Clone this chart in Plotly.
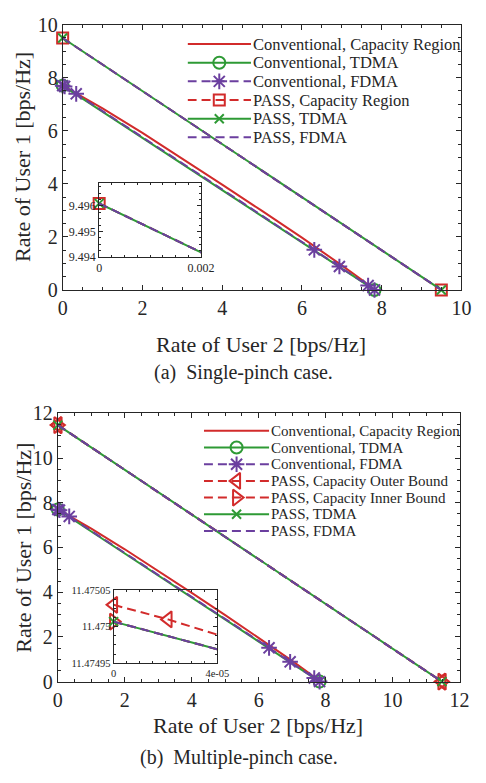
import numpy as np
import plotly.graph_objects as go

# ---------------- data ----------------
# (a) single-pinch case
conv_cap_x = [0, 0.5, 1, 2, 3, 4, 5, 6, 7, 7.5, 7.82]
conv_cap_y = [7.70, 7.28, 6.845, 5.92, 4.956, 3.97, 2.977, 1.972, 0.927, 0.385, 0.0]

conv_tdma_x = [0, 7.82]
conv_tdma_y = [7.70, 0.0]
conv_tdma_mk = [1, 1]

conv_fdma_x = [0, 0.05, 0.34, 1, 2, 3, 4, 5, 6, 6.31, 6.94, 7.66, 7.82]
conv_fdma_y = [7.70, 7.67, 7.39, 6.745, 5.76, 4.78, 3.79, 2.80, 1.82, 1.51, 0.885, 0.165, 0.0]
conv_fdma_mk = [1, 1, 1, 0, 0, 0, 0, 0, 0, 1, 1, 1, 1]

a_pass_x = [0, 0.002, 9.4961]
a_pass_y = [9.4961, 9.49418, 0.0]
a_pass_mk = [1, 0, 1]

# (b) multiple-pinch case
b_outer_x = [0, 2.1e-5, 4e-5, 11.47501, 11.47503]
b_outer_y = [11.47503, 11.47501, 11.474989, 2.1e-5, 0.0]
b_outer_mk = [1, 1, 0, 1, 1]

b_inner_x = [0, 4e-5, 11.475007]
b_inner_y = [11.475007, 11.474969, 0.0]
b_inner_mk = [1, 0, 1]

# axis settings
a_inset_xrange = [0, 0.002]
a_inset_yrange = [9.494, 9.4969]
a_inset_xticks = [0, 0.002]
a_inset_xtext = ["0", "0.002"]
a_inset_yticks = [9.494, 9.495, 9.496]
a_inset_ytext = ["9.494", "9.495", "9.496"]

b_inset_xrange = [0, 4e-5]
b_inset_yrange = [11.47495, 11.47505]
b_inset_xticks = [0, 4e-5]
b_inset_xtext = ["0", "4e-05"]
b_inset_yticks = [11.47495, 11.475, 11.47505]
b_inset_ytext = ["11.47495", "11.475", "11.47505"]

legend_a = ["Conventional, Capacity Region", "Conventional, TDMA", "Conventional, FDMA",
            "PASS, Capacity Region", "PASS, TDMA", "PASS, FDMA"]
legend_b = ["Conventional, Capacity Region", "Conventional, TDMA", "Conventional, FDMA",
            "PASS, Capacity Outer Bound", "PASS, Capacity Inner Bound", "PASS, TDMA", "PASS, FDMA"]

# ---------------- styling ----------------
FONT = "Liberation Serif"
INK = "#262626"
RED = "#D22B2B"
GREEN = "#2E9A35"
PURPLE = "#6B3F9F"
DASH = "9px,5px"

W, H = 486, 783


def fx(p):
    return p / W


def fy(p):
    return 1 - p / H


S_CAP = dict(color=RED, dash="solid", symbol=None, size=0)
S_TDMA = dict(color=GREEN, dash="solid", symbol="circle-open", size=12)
S_FDMA = dict(color=PURPLE, dash=DASH, symbol="asterisk-open", size=13)
S_PCAP = dict(color=RED, dash=DASH, symbol="square-open", size=11)
S_OUT = dict(color=RED, dash=DASH, symbol="triangle-left-open", size=14)
S_IN = dict(color=RED, dash=DASH, symbol="triangle-right-open", size=14)
S_PTDMA = dict(color=GREEN, dash="solid", symbol="x-thin-open", size=9)
S_PFDMA = dict(color=PURPLE, dash=DASH, symbol=None, size=0)

fig = go.Figure()


def marker_dict(st):
    return dict(symbol=st["symbol"], size=st["size"], color=st["color"],
                line=dict(width=2, color=st["color"]))


def add_series(xs, ys, flags, st, xa, ya, xr=None, yr=None):
    fig.add_trace(go.Scatter(x=xs, y=ys, mode="lines", xaxis=xa, yaxis=ya,
                             line=dict(color=st["color"], width=2, dash=st["dash"]),
                             showlegend=False, hoverinfo="skip"))
    if st["symbol"] is None or flags is None:
        return
    mx = np.array([x for x, f in zip(xs, flags) if f], dtype=float)
    my = np.array([y for y, f in zip(ys, flags) if f], dtype=float)
    if xr is not None:
        keep = (mx >= xr[0]) & (mx <= xr[1]) & (my >= yr[0]) & (my <= yr[1])
        mx, my = mx[keep], my[keep]
    fig.add_trace(go.Scatter(x=mx, y=my, mode="markers", xaxis=xa, yaxis=ya,
                             marker=marker_dict(st), cliponaxis=False,
                             showlegend=False, hoverinfo="skip"))


def panel_a(xa, ya, xr=None, yr=None):
    add_series(conv_cap_x, conv_cap_y, None, S_CAP, xa, ya, xr, yr)
    add_series(conv_tdma_x, conv_tdma_y, conv_tdma_mk, S_TDMA, xa, ya, xr, yr)
    add_series(conv_fdma_x, conv_fdma_y, conv_fdma_mk, S_FDMA, xa, ya, xr, yr)
    add_series(a_pass_x, a_pass_y, a_pass_mk, S_PCAP, xa, ya, xr, yr)
    add_series(a_pass_x, a_pass_y, a_pass_mk, S_PTDMA, xa, ya, xr, yr)
    add_series(a_pass_x, a_pass_y, None, S_PFDMA, xa, ya, xr, yr)


def panel_b(xa, ya, xr=None, yr=None):
    add_series(conv_cap_x, conv_cap_y, None, S_CAP, xa, ya, xr, yr)
    add_series(conv_tdma_x, conv_tdma_y, conv_tdma_mk, S_TDMA, xa, ya, xr, yr)
    add_series(conv_fdma_x, conv_fdma_y, conv_fdma_mk, S_FDMA, xa, ya, xr, yr)
    add_series(b_outer_x, b_outer_y, b_outer_mk, S_OUT, xa, ya, xr, yr)
    add_series(b_inner_x, b_inner_y, b_inner_mk, S_IN, xa, ya, xr, yr)
    add_series(b_inner_x, b_inner_y, b_inner_mk, S_PTDMA, xa, ya, xr, yr)
    add_series(b_inner_x, b_inner_y, None, S_PFDMA, xa, ya, xr, yr)


panel_a("x", "y")
panel_a("x2", "y2", a_inset_xrange, a_inset_yrange)
panel_b("x3", "y3")
panel_b("x4", "y4", b_inset_xrange, b_inset_yrange)


# legend rows drawn on hidden axes (long line samples with centred markers)
def legend_rows(labels, styles, xa, ya, fsize):
    for i, (lab, st) in enumerate(zip(labels, styles)):
        fig.add_trace(go.Scatter(x=[0, 1], y=[i, i], mode="lines", xaxis=xa, yaxis=ya,
                                 line=dict(color=st["color"], width=2, dash=st["dash"]),
                                 showlegend=False, hoverinfo="skip", cliponaxis=False))
        if st["symbol"] is not None:
            fig.add_trace(go.Scatter(x=[0.5], y=[i], mode="markers", xaxis=xa, yaxis=ya,
                                     marker=marker_dict(st), cliponaxis=False,
                                     showlegend=False, hoverinfo="skip"))
        fig.add_annotation(x=1.0, y=i, xref=xa, yref=ya, text=lab, showarrow=False,
                           xanchor="left", yanchor="middle", xshift=0,
                           font=dict(family=FONT, size=fsize, color=INK))


legend_rows(legend_a, [S_CAP, S_TDMA, S_FDMA, S_PCAP, S_PTDMA, S_PFDMA], "x5", "y5", 16.5)
legend_rows(legend_b, [S_CAP, S_TDMA, S_FDMA, S_OUT, S_IN, S_PTDMA, S_PFDMA], "x6", "y6", 15)


def main_axis(dom, rng, dtick, anchor):
    return dict(domain=dom, range=rng, dtick=dtick, tick0=0, anchor=anchor,
                ticks="inside", ticklen=5, tickwidth=1, tickcolor=INK,
                mirror="allticks", showline=True, linecolor=INK, linewidth=1,
                showgrid=False, zeroline=False, fixedrange=True,
                tickfont=dict(family=FONT, size=20, color=INK),
                minor=dict(dtick=0.5, tick0=0, ticks="inside", ticklen=3,
                           tickcolor=INK, showgrid=False))


def inset_axis(dom, rng, vals, text, minor, anchor, fsize):
    return dict(domain=dom, range=rng, tickvals=vals, ticktext=text, anchor=anchor,
                ticks="inside", ticklen=4, tickwidth=1, tickcolor=INK,
                mirror="allticks", showline=True, linecolor=INK, linewidth=1,
                showgrid=False, zeroline=False, fixedrange=True,
                tickfont=dict(family=FONT, size=fsize, color=INK),
                minor=dict(dtick=minor, tick0=rng[0], ticks="inside", ticklen=2,
                           tickcolor=INK, showgrid=False))


def hidden_axis(dom, rng, anchor):
    return dict(domain=dom, range=rng, visible=False, fixedrange=True, anchor=anchor)


fig.update_layout(
    width=W, height=H, margin=dict(l=0, r=0, t=0, b=0),
    paper_bgcolor="white", plot_bgcolor="rgba(0,0,0,0)", showlegend=False,
    font=dict(family=FONT, color=INK),
    xaxis=main_axis([fx(60), fx(475)], [0, 10], 2, "y"),
    yaxis=main_axis([fy(287), fy(14)], [0, 10], 2, "x"),
    xaxis2=inset_axis([fx(98), fx(204)], a_inset_xrange, a_inset_xticks, a_inset_xtext,
                      0.00025, "y2", 12),
    yaxis2=inset_axis([fy(253), fy(177)], a_inset_yrange, a_inset_yticks, a_inset_ytext,
                      0.00025, "x2", 12),
    xaxis3=main_axis([fx(55), fx(473)], [0, 12], 2, "y3"),
    yaxis3=main_axis([fy(690), fy(414)], [0, 12], 2, "x3"),
    xaxis4=inset_axis([fx(113), fx(221)], b_inset_xrange, b_inset_xticks, b_inset_xtext,
                      5e-6, "y4", 10.5),
    yaxis4=inset_axis([fy(671), fy(596)], b_inset_yrange, b_inset_yticks, b_inset_ytext,
                      1.25e-5, "x4", 10.5),
    xaxis5=hidden_axis([fx(190), fx(256)], [0, 1], "y5"),
    yaxis5=hidden_axis([fy(130 + 9.6), fy(34 - 9.6)], [5.5, -0.5], "x5"),
    xaxis6=hidden_axis([fx(207), fx(275)], [0, 1], "y6"),
    yaxis6=hidden_axis([fy(535 + 8.6), fy(432 - 8.6)], [6.5, -0.5], "x6"),
)

# axis titles and panel captions
TXT = dict(family=FONT, color=INK)


def label(px_x, px_y, text, size, angle=0):
    fig.add_annotation(x=fx(px_x), y=fy(px_y), xref="paper", yref="paper", showarrow=False,
                       xanchor="center", yanchor="middle", text=text, textangle=angle,
                       font=dict(size=size, **TXT))


label(266, 343, "Rate of User 2 [bps/Hz]", 22)
label(19, 150, "Rate of User 1 [bps/Hz]", 22, -90)
label(248, 372, "(a)  Single-pinch case.", 20)
label(263, 735, "Rate of User 2 [bps/Hz]", 22)
label(19, 552, "Rate of User 1 [bps/Hz]", 22, -90)
label(244, 768, "(b)  Multiple-pinch case.", 20)

fig.write_html("out.html")
